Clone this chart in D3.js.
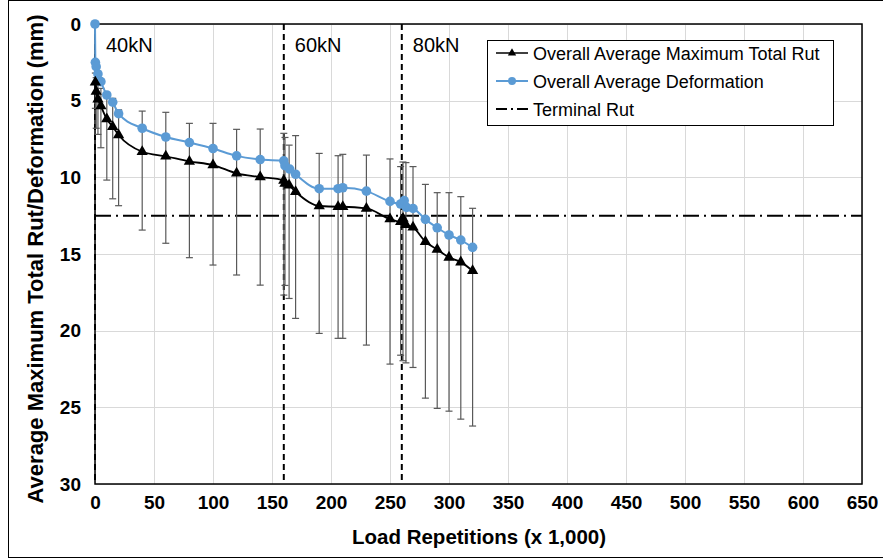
<!DOCTYPE html>
<html>
<head>
<meta charset="utf-8">
<script src="https://cdn.jsdelivr.net/npm/d3@7"></script>
<style>
  html, body { margin: 0; padding: 0; background: #fff; }
  svg { display: block; font-family: "Liberation Sans", Arial, sans-serif; }
</style>
</head>
<body>
<svg id="chart" width="883" height="559"></svg>
<script>
// Load repetitions (x 1,000) and measured values (mm)
const rutX   = [0.3, 1, 2.5, 5, 10, 15, 20, 40, 60, 80, 100, 120, 140, 160, 161, 164.5, 170, 190, 206, 210, 230, 250, 259, 261, 263.5, 269.5, 280, 290, 300, 310, 320];
const rutY   = [3.8, 4.4, 4.9, 5.35, 6.2, 6.7, 7.24, 8.33, 8.63, 8.96, 9.2, 9.74, 9.98, 10.2, 10.4, 10.52, 10.94, 11.87, 11.92, 11.92, 12.03, 12.72, 12.9, 12.68, 13.1, 13.26, 14.2, 14.7, 15.22, 15.53, 16.1];
const rutTop = [3.2, 3.5, 3.8, 4.2, 4.5, 4.85, 5.6, 5.68, 5.76, 6.48, 6.48, 6.87, 6.85, 7.13, 7.4, 7.9, 7.28, 8.44, 8.59, 8.5, 8.55, 8.8, 9.3, 9.0, 9.04, 9.3, 10.46, 11.0, 11.0, 11.26, 12.02];
const rutBot = [5.5, 6.8, 7.2, 8.07, 10.18, 11.4, 11.85, 13.44, 14.3, 15.24, 15.72, 16.37, 17.03, 17.68, 17.05, 17.9, 19.2, 20.18, 20.5, 20.5, 20.94, 22.18, 21.6, 21.96, 22.1, 22.4, 24.4, 25.07, 25.25, 25.77, 26.22];

const defX = [0, 0.3, 1, 2.5, 5, 10, 15, 20, 40, 60, 80, 100, 120, 140, 160, 161, 165, 170, 190, 206, 210, 230, 250, 259, 262, 264, 269.5, 280, 290, 300, 310, 320];
const defY = [0, 2.5, 2.78, 3.26, 3.76, 4.63, 5.1, 5.85, 6.8, 7.37, 7.73, 8.12, 8.6, 8.84, 8.92, 9.24, 9.46, 9.8, 10.74, 10.74, 10.68, 10.9, 11.57, 11.74, 11.52, 11.96, 12.03, 12.74, 13.29, 13.76, 14.09, 14.57];

const terminalRut = 12.5;
const stageStarts = [0, 160, 260];
const stageLabels = ["40kN", "60kN", "80kN"];

const xTicks = d3.range(0, 651, 50);
const yTicks = d3.range(0, 31, 5);

const seriesNames = ["Overall Average Maximum Total Rut", "Overall Average Deformation", "Terminal Rut"];
const xTitle = "Load Repetitions (x 1,000)";
const yTitle = "Average Maximum Total Rut/Deformation (mm)";

const blue = "#5b9bd5";

const svg = d3.select("#chart");
const plot = { left: 95, top: 24, right: 862, bottom: 484 };

const x = d3.scaleLinear().domain([0, 650]).range([plot.left, plot.right]);
const y = d3.scaleLinear().domain([0, 30]).range([plot.top, plot.bottom]);

// outer frame
svg.append("rect")
  .attr("x", 8.5).attr("y", 0.5).attr("width", 890).attr("height", 557)
  .attr("fill", "none").attr("stroke", "#000").attr("stroke-width", 1);

// gridlines
const grid = svg.append("g").attr("stroke", "#d9d9d9").attr("stroke-width", 1);
grid.selectAll("line.v").data(xTicks).join("line")
  .attr("x1", d => Math.round(x(d)) + 0.5).attr("x2", d => Math.round(x(d)) + 0.5)
  .attr("y1", plot.top).attr("y2", plot.bottom);
grid.selectAll("line.h").data(yTicks).join("line")
  .attr("y1", d => Math.round(y(d)) + 0.5).attr("y2", d => Math.round(y(d)) + 0.5)
  .attr("x1", plot.left).attr("x2", plot.right);

// axes (labels only, frame drawn separately)
const xAxis = d3.axisBottom(x).tickValues(xTicks).tickSize(0).tickPadding(12).tickFormat(d3.format("d"));
const gx = svg.append("g").attr("transform", `translate(0,${plot.bottom})`).call(xAxis);
gx.select(".domain").remove();
gx.selectAll("text").attr("font-size", 19).attr("font-weight", "bold").attr("fill", "#000")
  .attr("font-family", "Liberation Sans, Arial, sans-serif");

const yAxis = d3.axisLeft(y).tickValues(yTicks).tickSize(0).tickPadding(14).tickFormat(d3.format("d"));
const gy = svg.append("g").attr("transform", `translate(${plot.left},0)`).call(yAxis);
gy.select(".domain").remove();
gy.selectAll("text").attr("font-size", 19).attr("font-weight", "bold").attr("fill", "#000")
  .attr("font-family", "Liberation Sans, Arial, sans-serif");

// axis titles
svg.append("text")
  .attr("x", 479).attr("y", 544)
  .attr("text-anchor", "middle").attr("font-size", 20.5).attr("font-weight", "bold")
  .text(xTitle);
svg.append("text")
  .attr("transform", `translate(43,259) rotate(-90)`)
  .attr("text-anchor", "middle").attr("font-size", 22).attr("font-weight", "bold")
  .text(yTitle);

// plot frame
svg.append("rect")
  .attr("x", plot.left).attr("y", plot.top)
  .attr("width", plot.right - plot.left).attr("height", plot.bottom - plot.top)
  .attr("fill", "none").attr("stroke", "#000").attr("stroke-width", 1.5);

// load stage boundaries
svg.append("g").selectAll("line").data(stageStarts).join("line")
  .attr("x1", d => x(d)).attr("x2", d => x(d))
  .attr("y1", plot.top).attr("y2", plot.bottom)
  .attr("stroke", "#000").attr("stroke-width", 2).attr("stroke-dasharray", "6,4");

svg.append("g").selectAll("text").data(stageStarts).join("text")
  .attr("x", d => x(d) + 11).attr("y", 52)
  .attr("font-size", 20).attr("fill", "#000")
  .text((d, i) => stageLabels[i]);

// terminal rut
svg.append("line")
  .attr("x1", x(0)).attr("x2", x(650))
  .attr("y1", y(terminalRut)).attr("y2", y(terminalRut))
  .attr("stroke", "#000").attr("stroke-width", 2).attr("stroke-dasharray", "16,5,2,5");

// error bars on rut series
const eb = svg.append("g").attr("stroke", "#595959").attr("stroke-width", 1.2);
rutX.forEach((d, i) => {
  const cx = x(d);
  eb.append("line").attr("x1", cx).attr("x2", cx).attr("y1", y(rutTop[i])).attr("y2", y(rutBot[i]));
  eb.append("line").attr("x1", cx - 3.5).attr("x2", cx + 3.5).attr("y1", y(rutTop[i])).attr("y2", y(rutTop[i]));
  eb.append("line").attr("x1", cx - 3.5).attr("x2", cx + 3.5).attr("y1", y(rutBot[i])).attr("y2", y(rutBot[i]));
});

const line = d3.line().x(d => x(d[0])).y(d => y(d[1])).curve(d3.curveMonotoneX);

// deformation series
const defPts = defX.map((d, i) => [d, defY[i]]);
svg.append("path").datum(defPts).attr("d", line)
  .attr("fill", "none").attr("stroke", blue).attr("stroke-width", 2);
svg.append("g").selectAll("circle").data(defPts).join("circle")
  .attr("cx", d => x(d[0])).attr("cy", d => y(d[1])).attr("r", 4.8).attr("fill", blue);

// rut series
const rutPts = rutX.map((d, i) => [d, rutY[i]]);
svg.append("path").datum(rutPts).attr("d", line)
  .attr("fill", "none").attr("stroke", "#000").attr("stroke-width", 1.8);
const tri = d3.symbol().type(d3.symbolTriangle).size(55);
svg.append("g").selectAll("path").data(rutPts).join("path")
  .attr("transform", d => `translate(${x(d[0])},${y(d[1])})`)
  .attr("d", tri).attr("fill", "#000");

// legend
const lg = svg.append("g").attr("transform", "translate(487,40)");
lg.append("rect").attr("x", 0.5).attr("y", 0.5).attr("width", 346).attr("height", 85)
  .attr("fill", "#fff").attr("stroke", "#000").attr("stroke-width", 1);
const rows = [13, 41, 69];
rows.forEach((ry, i) => {
  const l = lg.append("line").attr("x1", 9).attr("x2", 41).attr("y1", ry).attr("y2", ry);
  if (i === 0) {
    l.attr("stroke", "#000").attr("stroke-width", 1.5);
    lg.append("path").attr("transform", `translate(25,${ry})`).attr("d", d3.symbol().type(d3.symbolTriangle).size(30)).attr("fill", "#000");
  } else if (i === 1) {
    l.attr("stroke", blue).attr("stroke-width", 2);
    lg.append("circle").attr("cx", 25).attr("cy", ry).attr("r", 4).attr("fill", blue);
  } else {
    l.attr("stroke", "#000").attr("stroke-width", 2).attr("stroke-dasharray", "11,4,2,4");
  }
  lg.append("text").attr("x", 46).attr("y", ry + 6.5).attr("font-size", 18).attr("fill", "#000").text(seriesNames[i]);
});
</script>
</body>
</html>
